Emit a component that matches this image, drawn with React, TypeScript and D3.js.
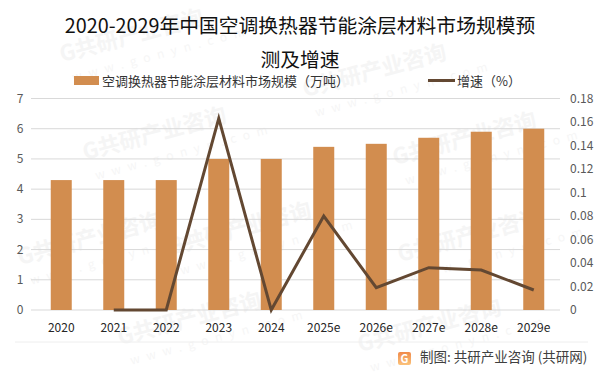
import React from "react";
import * as d3 from "d3";

const categories = ["2020","2021","2022","2023","2024","2025e","2026e","2027e","2028e","2029e"];
const marketSize = [4.3,4.3,4.3,5,5,5.4,5.5,5.7,5.9,6];
const growth: (number|null)[] = [null,0,0,0.163,0,0.08,0.019,0.036,0.034,0.017];
const leftTicks = [0,1,2,3,4,5,6,7];
const rightTicks = [0,0.02,0.04,0.06,0.08,0.1,0.12,0.14,0.16,0.18];
const titleLines = ["2020-2029年中国空调换热器节能涂层材料市场规模预","测及增速"];
const wmBig: [number,number][] = [[62,62],[305,97],[85,160],[395,165],[170,255],[20,265],[400,262],[120,345],[360,352]];
const FONT = "'Noto Sans CJK SC','Noto Sans',sans-serif";

export default function App() {
  const x = d3.scaleBand<string>().domain(categories).range([35,560]);
  const yL = d3.scaleLinear().domain([0,7]).range([310,98.5]);
  const yR = d3.scaleLinear().domain([0,0.18]).range([310,98.5]);
  const cx = (c:string)=> (x(c) as number)+x.bandwidth()/2;
  const pts = categories.map((c,i)=>({c,v:growth[i]})).filter(p=>p.v!==null);
  const line = d3.line<{c:string,v:number|null}>().x(p=>cx(p.c)).y(p=>yR(p.v as number));
  return (
    <svg width={603} height={375} style={{position:"absolute",left:0,top:0,background:"#fff"}} fontFamily={FONT}>
      <defs>
        <linearGradient id="logo" x1="0" y1="0" x2="0" y2="1">
          <stop offset="0" stopColor="#f08a4b"/><stop offset="1" stopColor="#fbc27a"/>
        </linearGradient>
      </defs>
      <g>
        {wmBig.map(([a,b],i)=>(
          <g key={i} transform={`translate(${a},${b}) rotate(-15)`}>
            <text fontSize={22} fontWeight={700} fill="#f5f5f5">G共研产业咨询</text>
            <text y={22} x={6} fontSize={12} letterSpacing={7} fill="#f6f6f6">www.gonyn.com</text>
          </g>
        ))}
      </g>
      {leftTicks.map(t=>(
        <g key={t}>
          <line x1={31} x2={560} y1={yL(t)} y2={yL(t)} stroke="#d9d9d9" strokeWidth={1}/>
          <text x={20} y={yL(t)+4} textAnchor="middle" fontSize={12} fill="#595959">{t}</text>
        </g>
      ))}
      {rightTicks.map(t=>(
        <text key={t} x={570} y={yR(t)+4} fontSize={12} fill="#595959">{t}</text>
      ))}
      {categories.map((c,i)=>(
        <rect key={c} x={cx(c)-10.5} width={21} y={yL(marketSize[i])} height={310-yL(marketSize[i])} fill="#d28d4f"/>
      ))}
      <path d={line(pts) as string} fill="none" stroke="#634832" strokeWidth={3}/>
      {categories.map(c=>(
        <text key={c} x={cx(c)} y={332} textAnchor="middle" fontSize={12} fill="#262626">{c}</text>
      ))}
      {titleLines.map((t,i)=>(
        <text key={i} x={300} y={33+i*33.5} textAnchor="middle" fontSize={19.8} fill="#111">{t}</text>
      ))}
      <rect x={74} y={76} width={25} height={9} fill="#d28d4f"/>
      <text x={102} y={85.5} fontSize={13} fill="#333">空调换热器节能涂层材料市场规模（万吨）</text>
      <line x1={428} x2={455} y1={80.5} y2={80.5} stroke="#634832" strokeWidth={3}/>
      <text x={457} y={85.5} fontSize={13} fill="#333">增速（%）</text>
      <line x1={15} x2={588} y1={342} y2={342} stroke="#eeeeee"/>
      <rect x={398} y={352} width={13} height={13} rx={2} fill="url(#logo)"/>
      <text x={400.5} y={362.5} fontSize={11} fontWeight={700} fill="#fff">G</text>
      <text x={420} y={362} fontSize={13.5} fill="#404040">制图: 共研产业咨询 (共研网)</text>
    </svg>
  );
}
